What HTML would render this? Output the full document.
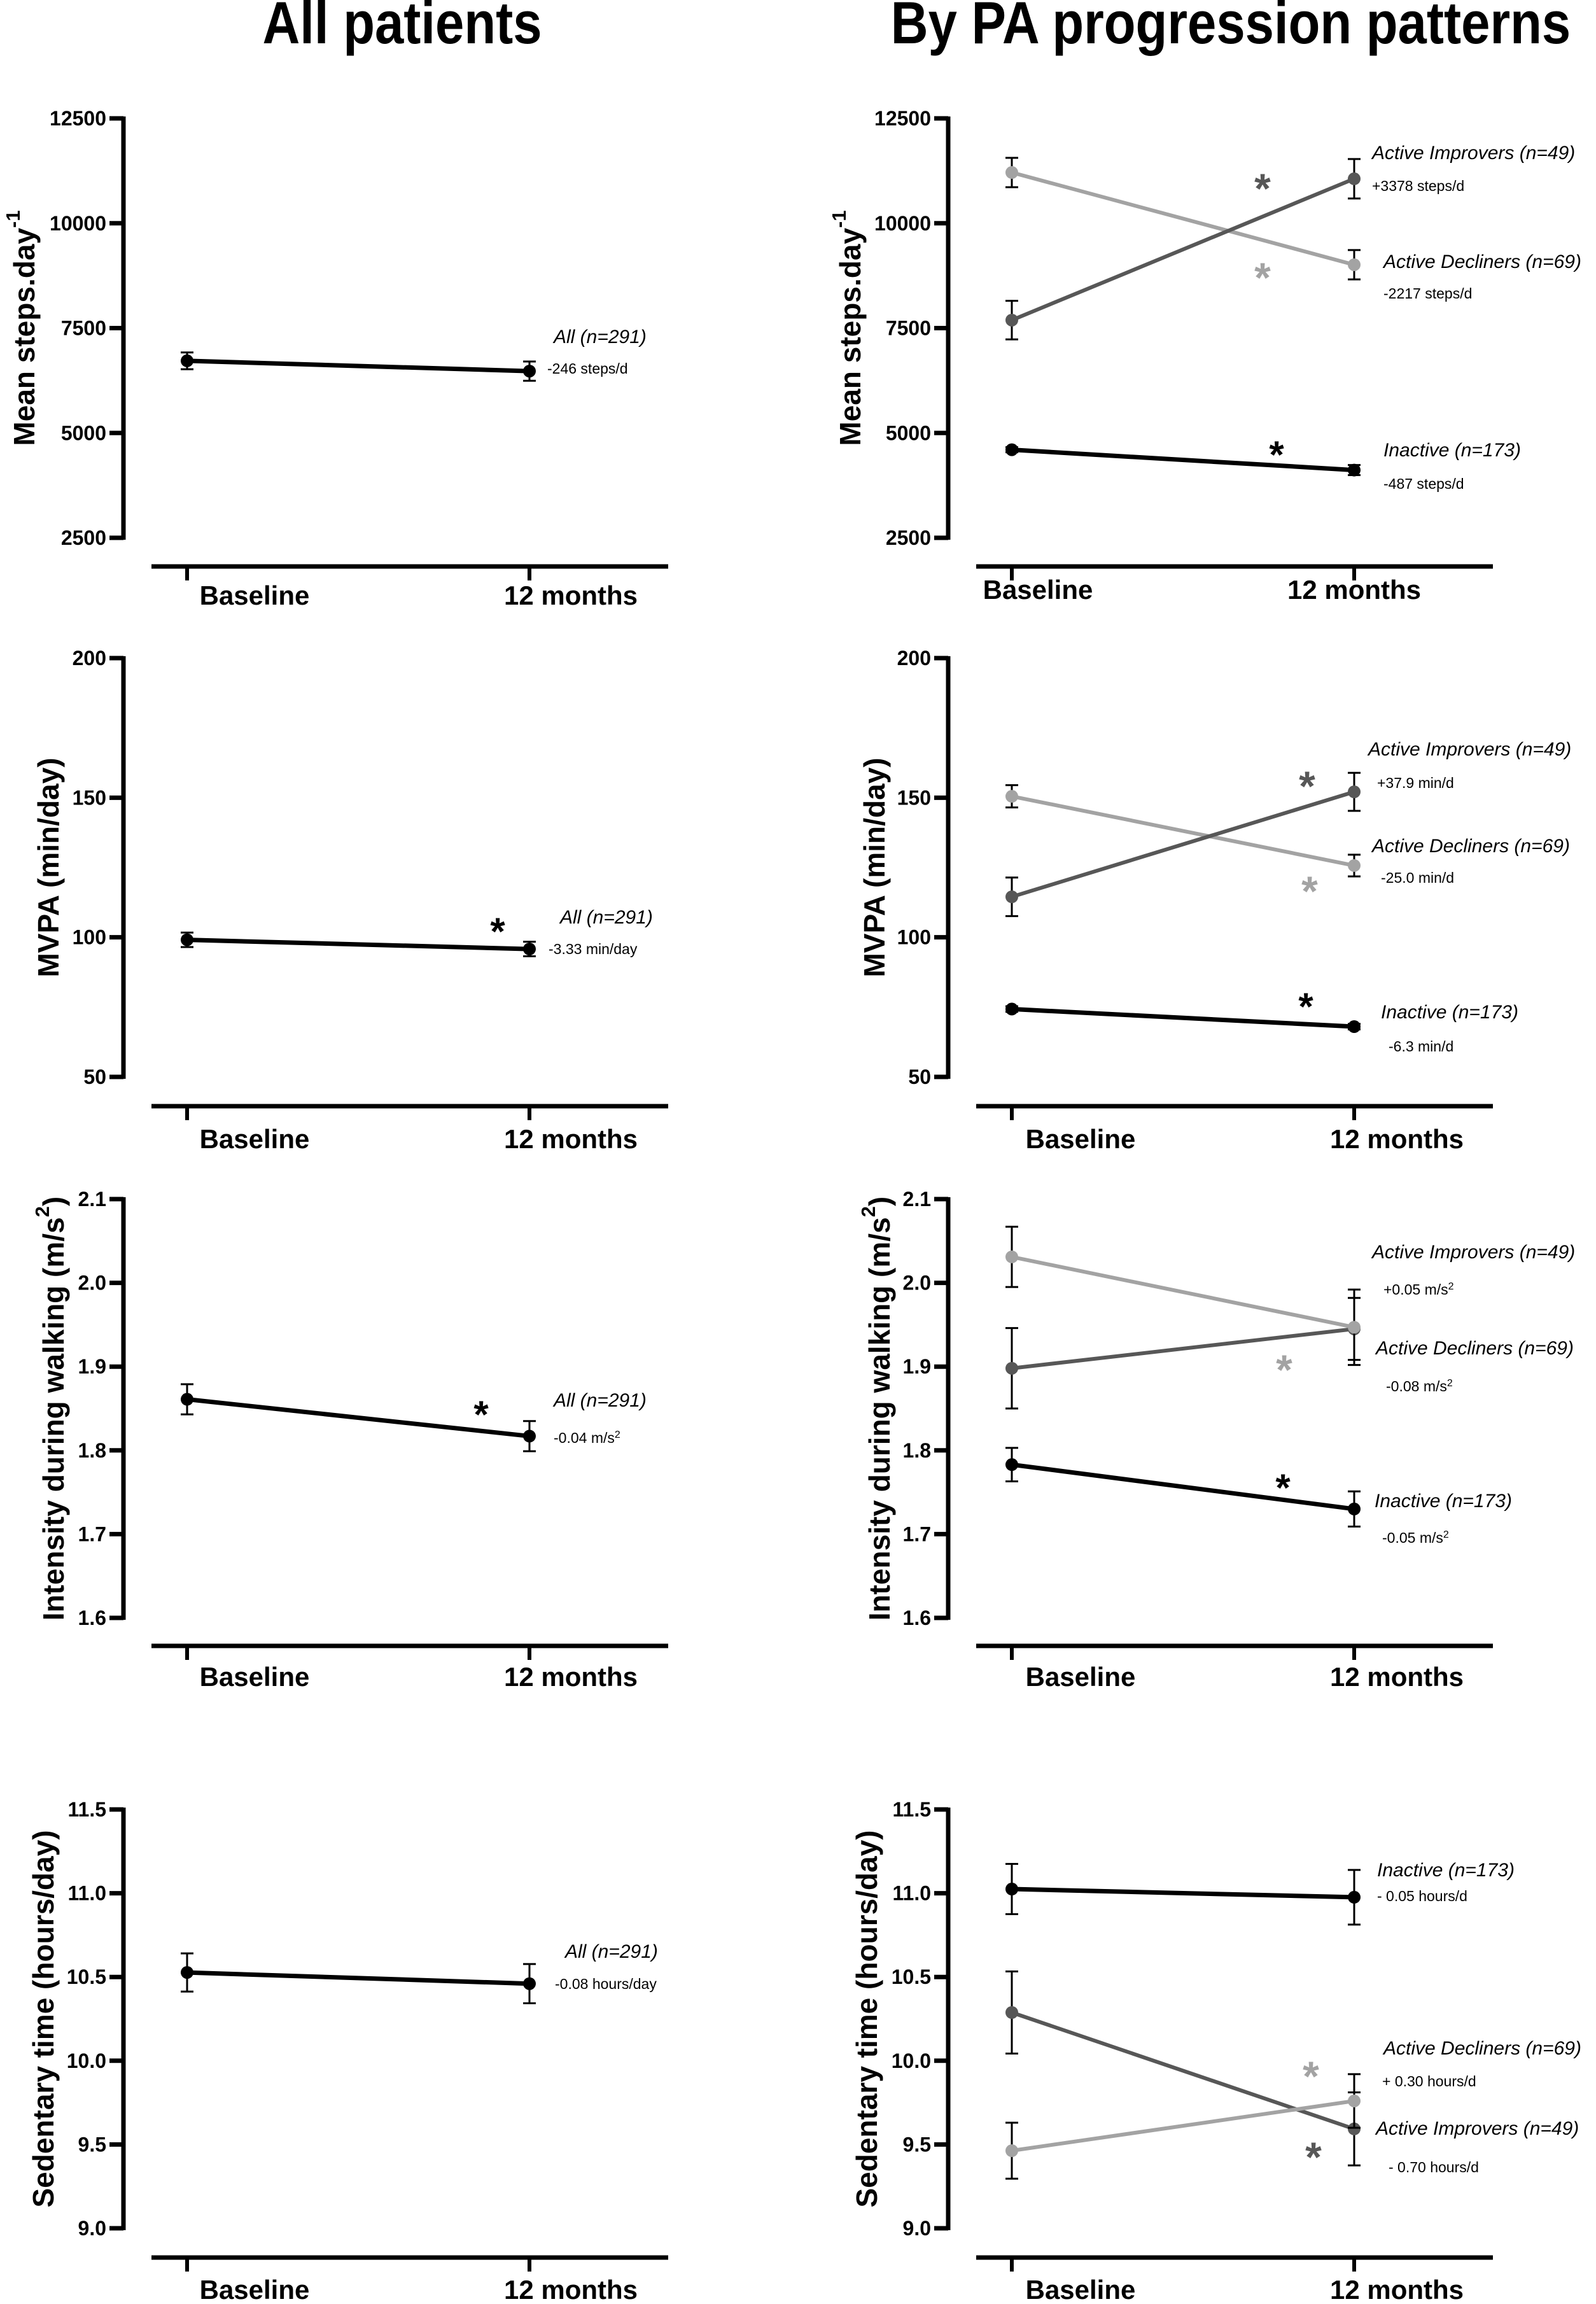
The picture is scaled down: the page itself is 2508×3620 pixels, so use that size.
<!DOCTYPE html>
<html><head><meta charset="utf-8"><style>
html,body{margin:0;padding:0;background:#fff;}
svg{display:block;}
text{font-family:"Liberation Sans",Arial,sans-serif;}
</style></head><body>
<svg id="fig" width="2508" height="3620" viewBox="0 0 2508 3620" xmlns="http://www.w3.org/2000/svg">
<rect width="2508" height="3620" fill="#fff"/>
<text x="0" y="0" font-size="84" font-weight="bold" text-anchor="middle" transform="translate(632 68) scale(0.97 1.12)">All patients</text>
<text x="0" y="0" font-size="84" font-weight="bold" text-anchor="middle" transform="translate(1934 68) scale(0.97 1.12)">By PA progression patterns</text>
</svg>
<script>
// ---- data ----
const xCategories = ['Baseline', '12 months'];
const groupNames = ['Inactive', 'Active Improvers', 'Active Decliners'];

const stepsTicks = [2500, 5000, 7500, 10000, 12500];
const mvpaTicks = [50, 100, 150, 200];
const intensityTicks = [1.6, 1.7, 1.8, 1.9, 2.0, 2.1];
const sedentaryTicks = [9.0, 9.5, 10.0, 10.5, 11.0, 11.5];

const stepsAll = [6720, 6474];
const stepsAllErr = [200, 230];
const stepsInactive = [4600, 4115];
const stepsInactiveErr = [60, 120];
const stepsImprovers = [7690, 11060];
const stepsImproversErr = [460, 470];
const stepsDecliners = [11210, 9010];
const stepsDeclinersErr = [350, 350];

const mvpaAll = [99.1, 95.8];
const mvpaAllErr = [2.6, 2.6];
const mvpaInactive = [74.3, 68.0];
const mvpaInactiveErr = [1.0, 1.0];
const mvpaImprovers = [114.5, 152.1];
const mvpaImproversErr = [6.9, 6.8];
const mvpaDecliners = [150.5, 125.7];
const mvpaDeclinersErr = [4.0, 3.9];

const intensityAll = [1.861, 1.817];
const intensityAllErr = [0.018, 0.018];
const intensityInactive = [1.783, 1.730];
const intensityInactiveErr = [0.020, 0.021];
const intensityImprovers = [1.898, 1.945];
const intensityImproversErr = [0.048, 0.037];
const intensityDecliners = [2.031, 1.947];
const intensityDeclinersErr = [0.036, 0.045];

const sedentaryAll = [10.527, 10.46];
const sedentaryAllErr = [0.114, 0.117];
const sedentaryInactive = [11.025, 10.976];
const sedentaryInactiveErr = [0.15, 0.163];
const sedentaryImprovers = [10.288, 9.593];
const sedentaryImproversErr = [0.245, 0.218];
const sedentaryDecliners = [9.463, 9.76];
const sedentaryDeclinersErr = [0.167, 0.16];

// ---- layout ----
const NS = 'http://www.w3.org/2000/svg';
const svg = document.getElementById('fig');
const BLACK = '#000', DARK = '#575757', LIGHT = '#a3a3a3';
const rows = [
  {top:186, bottom:845, xaxis:890, lab:[950,941], ticks:stepsTicks, fmt:v=>String(v), ytl:[38,1336], title:['Mean steps.day','-1'], name:'steps'},
  {top:1034, bottom:1692, xaxis:1738, lab:[1804,1804], ticks:mvpaTicks, fmt:v=>String(v), ytl:[76,1374], title:['MVPA (min/day)'], name:'mvpa'},
  {top:1884, bottom:2542, xaxis:2586, lab:[2649,2649], ticks:intensityTicks, fmt:v=>v.toFixed(1), ytl:[84,1382], title:['Intensity during walking (m/s','2',')'], name:'intensity'},
  {top:2843, bottom:3501, xaxis:3547, lab:[3612,3612], ticks:sedentaryTicks, fmt:v=>v.toFixed(1), ytl:[68,1362], title:['Sedentary time (hours/day)'], name:'sedentary'}
];
const cols = [
  {axisX:194, px:[294,832], xa:[238,1050], labX:[[400,897],[400,897],[400,897],[400,897]]},
  {axisX:1490, px:[1590,2128], xa:[1534,2346], labX:[[1631,2128],[1698,2195],[1698,2195],[1698,2195]]}
];

function el(tag, attrs, parent){
  const e = document.createElementNS(NS, tag);
  for (const k in attrs) e.setAttribute(k, attrs[k]);
  (parent||svg).appendChild(e);
  return e;
}
function yScale(row){
  const lo = row.ticks[0], hi = row.ticks[row.ticks.length-1];
  return v => row.bottom - (v-lo)/(hi-lo)*(row.bottom-row.top);
}

function drawAxes(r, c){
  const row = rows[r], col = cols[c], ys = yScale(row);
  const g = el('g', {});
  
  
  const ya = el('line', {x1:col.axisX, x2:col.axisX, y1:row.top-3, y2:row.bottom+3, stroke:'#000', 'stroke-width':7}, g);
  
  
  row.ticks.forEach(t => {
    const y = ys(t);
    const tk = el('line', {x1:col.axisX-22, x2:col.axisX, y1:y, y2:y, stroke:'#000', 'stroke-width':7}, g);
    
    
    const tl = el('text', {x:col.axisX-27, y:y+11, 'font-size':32, 'font-weight':'bold', 'text-anchor':'end'}, g);
    tl.textContent = row.fmt(t);
    
    
  });
  const xa = el('line', {x1:col.xa[0], x2:col.xa[1], y1:row.xaxis, y2:row.xaxis, stroke:'#000', 'stroke-width':7}, g);
  
  
  xCategories.forEach((cat, i) => {
    const xt = el('line', {x1:col.px[i], x2:col.px[i], y1:row.xaxis, y2:row.xaxis+22, stroke:'#000', 'stroke-width':6}, g);
    
    
    const xl = el('text', {x:col.labX[r][i], y:row.lab[c], 'font-size':42, 'font-weight':'bold', 'text-anchor':'middle'}, g);
    xl.textContent = cat;
    
    
  });
  const cy = (row.top+row.bottom)/2, cx = row.ytl[c];
  const yt = el('text', {x:cx, y:cy, 'font-size':46, 'font-weight':'bold', 'text-anchor':'middle', 'dominant-baseline':'central', transform:'rotate(-90 '+cx+' '+cy+')'}, g);
  
  
  row.title.forEach((part, i) => {
    const ts = el('tspan', {}, yt);
    if (i===1) { ts.setAttribute('baseline-shift','super'); ts.setAttribute('font-size','31'); }
    ts.textContent = part;
  });
  return g;
}

function drawSeries(r, c, vals, errs, color, name){
  const row = rows[r], col = cols[c], ys = yScale(row);
  const g = el('g', {});
  
  
  vals.forEach((v, i) => {
    const x = col.px[i], y1 = ys(v+errs[i]), y2 = ys(v-errs[i]);
    const eb = el('path', {d:'M'+(x-10)+' '+y1+'H'+(x+10)+'M'+x+' '+y1+'V'+y2+'M'+(x-10)+' '+y2+'H'+(x+10), stroke:'#000', 'stroke-width':3, fill:'none'}, g);
    
    
  });
  const ln = el('line', {x1:col.px[0], y1:ys(vals[0]), x2:col.px[1], y2:ys(vals[1]), stroke:color, 'stroke-width':color===BLACK?7:6}, g);
  
  
  vals.forEach((v, i) => {
    const p = el('circle', {cx:col.px[i], cy:ys(v), r:10, fill:color}, g);
    
    
  });
}

function txt(x, y, s, size, italic, name, sup){
  const t = el('text', {x:x, y:y, 'font-size':size});
  if (italic) t.setAttribute('font-style','italic');
  
  
  const a = el('tspan', {}, t); a.textContent = s;
  if (sup) { const b = el('tspan', {'baseline-shift':'super','font-size':Math.round(size*0.7)}, t); b.textContent = sup; }
  return t;
}
function star(x, y, color){
  const fs = color===BLACK ? 60 : 66;
  const t = el('text', {x:x, y:y+Math.round(fs*0.57), 'font-size':fs, 'font-weight':'bold', fill:color, 'text-anchor':'middle'});
  t.textContent = '*';
  
  
}

for (let r=0;r<4;r++) for (let c=0;c<2;c++) drawAxes(r,c);

// Row 1 steps
drawSeries(0,0,stepsAll,stepsAllErr,BLACK,'steps-all-series');
txt(870,539,'All (n=291)',30,true,'legend-all');
txt(860,587,'-246 steps/d',23,false,'change-all');
drawSeries(0,1,stepsInactive,stepsInactiveErr,BLACK,'steps-inactive-series');
drawSeries(0,1,stepsDecliners,stepsDeclinersErr,LIGHT,'steps-decliners-series');
drawSeries(0,1,stepsImprovers,stepsImproversErr,DARK,'steps-improvers-series');
star(1984,281,DARK); star(1984,421,LIGHT); star(2006,701,BLACK);
txt(2156,250,groupNames[1]+' (n=49)',30,true,'legend-improvers');
txt(2156,300,'+3378 steps/d',23,false,'change-improvers');
txt(2174,421,groupNames[2]+' (n=69)',30,true,'legend-decliners');
txt(2174,469,'-2217 steps/d',23,false,'change-decliners');
txt(2174,717,groupNames[0]+' (n=173)',30,true,'legend-inactive');
txt(2174,768,'-487 steps/d',23,false,'change-inactive');

// Row 2 MVPA
drawSeries(1,0,mvpaAll,mvpaAllErr,BLACK,'mvpa-all-series');
star(782,1450,BLACK);
txt(880,1451,'All (n=291)',30,true,'legend-all');
txt(862,1499,'-3.33 min/day',23,false,'change-all');
drawSeries(1,1,mvpaInactive,mvpaInactiveErr,BLACK,'mvpa-inactive-series');
drawSeries(1,1,mvpaDecliners,mvpaDeclinersErr,LIGHT,'mvpa-decliners-series');
drawSeries(1,1,mvpaImprovers,mvpaImproversErr,DARK,'mvpa-improvers-series');
star(2054,1220,DARK); star(2058,1385,LIGHT); star(2052,1568,BLACK);
txt(2150,1187,groupNames[1]+' (n=49)',30,true,'legend-improvers');
txt(2164,1238,'+37.9 min/d',23,false,'change-improvers');
txt(2156,1339,groupNames[2]+' (n=69)',30,true,'legend-decliners');
txt(2170,1387,'-25.0 min/d',23,false,'change-decliners');
txt(2170,1600,groupNames[0]+' (n=173)',30,true,'legend-inactive');
txt(2182,1652,'-6.3 min/d',23,false,'change-inactive');

// Row 3 intensity
drawSeries(2,0,intensityAll,intensityAllErr,BLACK,'intensity-all-series');
star(756,2209,BLACK);
txt(870,2210,'All (n=291)',30,true,'legend-all');
txt(870,2267,'-0.04 m/s',23,false,'change-all','2');
drawSeries(2,1,intensityInactive,intensityInactiveErr,BLACK,'intensity-inactive-series');
drawSeries(2,1,intensityImprovers,intensityImproversErr,DARK,'intensity-improvers-series');
drawSeries(2,1,intensityDecliners,intensityDeclinersErr,LIGHT,'intensity-decliners-series');
star(2018,2137,LIGHT); star(2016,2324,BLACK);
txt(2156,1977,groupNames[1]+' (n=49)',30,true,'legend-improvers');
txt(2174,2034,'+0.05 m/s',23,false,'change-improvers','2');
txt(2162,2128,groupNames[2]+' (n=69)',30,true,'legend-decliners');
txt(2178,2186,'-0.08 m/s',23,false,'change-decliners','2');
txt(2160,2368,groupNames[0]+' (n=173)',30,true,'legend-inactive');
txt(2172,2424,'-0.05 m/s',23,false,'change-inactive','2');

// Row 4 sedentary
drawSeries(3,0,sedentaryAll,sedentaryAllErr,BLACK,'sedentary-all-series');
txt(888,3076,'All (n=291)',30,true,'legend-all');
txt(872,3125,'-0.08 hours/day',23,false,'change-all');
drawSeries(3,1,sedentaryInactive,sedentaryInactiveErr,BLACK,'sedentary-inactive-series');
drawSeries(3,1,sedentaryImprovers,sedentaryImproversErr,DARK,'sedentary-improvers-series');
drawSeries(3,1,sedentaryDecliners,sedentaryDeclinersErr,LIGHT,'sedentary-decliners-series');
star(2060,3247,LIGHT); star(2064,3374,DARK);
txt(2164,2948,groupNames[0]+' (n=173)',30,true,'legend-inactive');
txt(2164,2987,'- 0.05 hours/d',23,false,'change-inactive');
txt(2174,3228,groupNames[2]+' (n=69)',30,true,'legend-decliners');
txt(2172,3278,'+ 0.30 hours/d',23,false,'change-decliners');
txt(2162,3354,groupNames[1]+' (n=49)',30,true,'legend-improvers');
txt(2182,3413,'- 0.70 hours/d',23,false,'change-improvers');
</script>
</body></html>
